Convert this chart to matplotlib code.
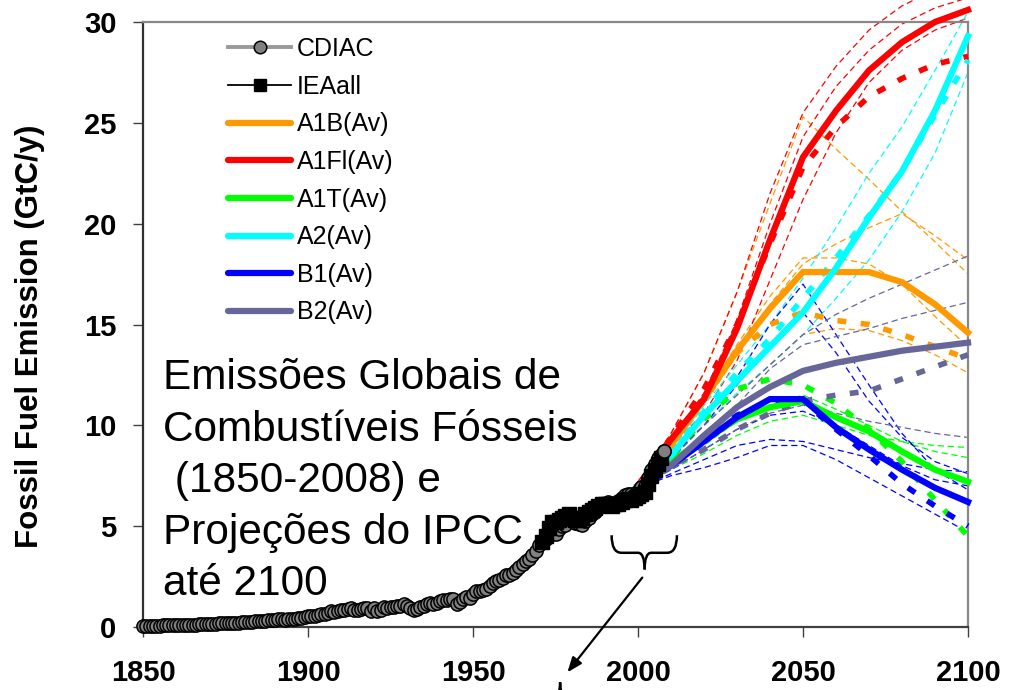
import matplotlib
matplotlib.use("Agg")
import matplotlib.pyplot as plt
from matplotlib.path import Path
from matplotlib.patches import PathPatch
from matplotlib.lines import Line2D

plt.rcParams['font.family'] = ['Liberation Sans', 'DejaVu Sans']

# ---- historical fossil fuel emissions (GtC/y) ----
cdiac_years = list(range(1850, 2009))
cdiac = [
    0.054, 0.054, 0.057, 0.059, 0.069, 0.071, 0.076, 0.077, 0.078, 0.083,
    0.091, 0.095, 0.097, 0.104, 0.112, 0.119, 0.122, 0.130, 0.135, 0.142,
    0.147, 0.156, 0.173, 0.184, 0.174, 0.188, 0.191, 0.194, 0.196, 0.210,
    0.236, 0.243, 0.256, 0.272, 0.275, 0.277, 0.281, 0.295, 0.327, 0.327,
    0.356, 0.372, 0.374, 0.370, 0.383, 0.406, 0.419, 0.440, 0.465, 0.507,
    0.534, 0.552, 0.566, 0.617, 0.624, 0.663, 0.707, 0.784, 0.750, 0.785,
    0.819, 0.836, 0.879, 0.943, 0.850, 0.838, 0.901, 0.955, 0.936, 0.806,
    0.932, 0.803, 0.845, 0.970, 0.963, 0.975, 0.983, 1.062, 1.065, 1.145,
    1.053, 0.940, 0.847, 0.893, 0.973, 1.027, 1.130, 1.209, 1.142, 1.192,
    1.299, 1.334, 1.342, 1.391, 1.383, 1.160, 1.238, 1.392, 1.469, 1.419,
    1.630, 1.767, 1.795, 1.841, 1.865, 2.042, 2.177, 2.270, 2.330, 2.454,
    2.569, 2.580, 2.686, 2.833, 2.995, 3.130, 3.288, 3.393, 3.566, 3.780,
    4.053, 4.208, 4.376, 4.614, 4.623, 4.596, 4.864, 5.016, 5.074, 5.357,
    5.301, 5.138, 5.094, 5.075, 5.258, 5.417, 5.583, 5.725, 5.936, 6.066,
    6.098, 6.183, 6.107, 6.122, 6.246, 6.391, 6.530, 6.614, 6.587, 6.574,
    6.758, 6.930, 6.993, 7.370, 7.786, 8.097, 8.356, 8.533, 8.749,
]

iea_years = list(range(1971, 2008))
iea_all = [
    4.20, 4.50, 4.90, 5.20, 5.20, 5.30, 5.40, 5.50, 5.60, 5.40,
    5.30, 5.30, 5.40, 5.60, 5.70, 5.80, 5.90, 6.00, 6.10, 6.10,
    6.10, 6.00, 6.10, 6.10, 6.20, 6.30, 6.35, 6.30, 6.40, 6.50,
    6.60, 6.70, 7.10, 7.50, 7.80, 8.10, 8.40,
]

# ---- IPCC SRES projections (GtC/y) ----
proj_years = [2000, 2010, 2020, 2030, 2040, 2050, 2060, 2070, 2080, 2090, 2100]

# scenario averages
a1b_av  = [7.0, 9.0, 11.3, 13.7, 15.8, 17.6, 17.6, 17.6, 17.1, 16.0, 14.6]
a1fi_av = [7.0, 9.3, 11.3, 14.8, 19.2, 23.3, 25.6, 27.6, 29.0, 30.0, 30.6]
a1t_av  = [7.0, 8.2, 9.3, 10.3, 10.9, 11.2, 10.4, 9.7, 8.7, 7.8, 7.2]
a2_av   = [7.0, 8.5, 10.5, 12.2, 13.9, 15.6, 17.8, 20.3, 22.6, 25.6, 29.3]
b1_av   = [7.0, 8.0, 9.2, 10.4, 11.3, 11.3, 9.9, 8.8, 7.8, 6.9, 6.2]
b2_av   = [7.0, 8.0, 9.5, 10.9, 11.9, 12.7, 13.1, 13.4, 13.7, 13.9, 14.1]

# marker scenarios
a1b_mk  = [7.0, 9.3, 11.6, 13.6, 15.0, 15.6, 15.2, 15.0, 14.5, 13.9, 13.3]
a1fi_mk = [7.0, 9.4, 11.8, 15.0, 19.0, 22.8, 24.8, 26.3, 27.2, 27.9, 28.3]
a1t_mk  = [7.0, 8.5, 10.3, 11.8, 12.3, 12.0, 11.1, 9.8, 8.2, 6.3, 4.5]
a2_mk   = [7.0, 8.5, 10.7, 12.6, 14.3, 16.3, 18.3, 20.4, 22.6, 25.4, 28.1]
b1_mk   = [7.0, 8.0, 9.3, 10.5, 11.2, 11.2, 9.8, 8.5, 7.1, 6.0, 5.0]
b2_mk   = [7.0, 8.0, 8.8, 9.8, 10.6, 11.2, 11.5, 11.7, 12.3, 12.9, 13.5]

# individual model runs
a1b_runs = [
    [7.1, 9.6, 12.6, 16.6, 21.0, 25.3, 23.7, 22.2, 20.6, 19.1, 17.5],
    [7.0, 8.8, 11.0, 13.5, 16.0, 18.0, 19.0, 19.8, 20.5, 19.4, 18.2],
    [7.0, 8.5, 10.0, 11.5, 13.0, 14.5, 14.8, 14.7, 14.2, 13.5, 12.6],
    [7.0, 9.0, 11.4, 14.0, 16.4, 18.3, 18.3, 18.0, 17.0, 15.4, 13.9],
]
a1fi_runs = [
    [7.1, 9.6, 12.6, 16.6, 21.5, 25.5, 27.8, 29.6, 30.8, 31.6, 32.2],
    [7.0, 9.0, 10.6, 13.2, 17.2, 21.2, 24.5, 27.0, 28.6, 29.6, 30.2],
    [7.0, 9.3, 11.6, 15.2, 20.0, 24.3, 26.8, 28.6, 29.9, 30.7, 31.2],
]
a1t_runs = [
    [6.9, 7.8, 8.6, 9.5, 10.2, 10.5, 10.0, 9.5, 9.2, 9.0, 8.9],
    [7.0, 8.0, 9.0, 10.2, 11.0, 11.5, 10.8, 10.0, 9.2, 8.7, 8.4],
]
a2_runs = [
    [7.0, 8.7, 11.0, 13.0, 15.0, 17.3, 19.8, 22.5, 24.8, 27.6, 30.5],
    [7.0, 8.3, 10.0, 11.6, 13.0, 14.5, 16.3, 18.2, 20.6, 23.5, 27.5],
]
b1_runs = [
    [7.0, 8.6, 10.4, 12.4, 15.0, 17.0, 14.5, 12.0, 9.6, 7.8, 6.8],
    [6.9, 7.5, 7.9, 8.4, 9.0, 9.0, 8.3, 7.4, 6.5, 5.6, 4.7],
    [6.9, 7.6, 8.3, 9.0, 9.3, 9.2, 8.8, 8.4, 8.1, 7.8, 7.7],
    [7.0, 7.8, 8.8, 9.8, 10.5, 10.7, 10.0, 9.0, 8.0, 7.3, 7.0],
    [7.0, 8.4, 10.0, 12.0, 14.0, 15.6, 13.6, 11.2, 9.4, 8.2, 7.6],
]
b2_runs = [
    [7.0, 8.3, 10.0, 11.5, 13.0, 14.5, 15.5, 16.3, 17.0, 17.7, 18.4],
    [7.0, 8.0, 9.3, 11.0, 12.8, 14.0, 14.4, 14.8, 15.3, 15.7, 16.1],
    [6.9, 7.8, 8.8, 9.8, 10.6, 11.0, 10.6, 10.2, 9.9, 9.6, 9.4],
]

scenarios = [
    ("A1B(Av)",  "#FF9900", a1b_av,  a1b_mk,  a1b_runs),
    ("A1FI(Av)", "#FF0000", a1fi_av, a1fi_mk, a1fi_runs),
    ("A1T(Av)",  "#00FF00", a1t_av,  a1t_mk,  a1t_runs),
    ("A2(Av)",   "#00FFFF", a2_av,   a2_mk,   a2_runs),
    ("B1(Av)",   "#0000FF", b1_av,   b1_mk,   b1_runs),
    ("B2(Av)",   "#666699", b2_av,   b2_mk,   b2_runs),
]
legend_labels = ["CDIAC", "IEAall", "A1B(Av)", "A1Fl(Av)", "A1T(Av)",
                 "A2(Av)", "B1(Av)", "B2(Av)"]

fig = plt.figure(figsize=(10.09, 6.90), dpi=100)
ax = fig.add_axes([143 / 1009, 1 - 627 / 690, 825 / 1009, 605 / 690])

# thin dashed model runs
for _, color, _, _, runs in scenarios:
    for run in runs:
        ax.plot(proj_years, run, color=color, lw=0.9, dashes=(5, 3),
                clip_on=False, zorder=2)

# thick dashed marker scenarios
for _, color, _, mk, _ in scenarios:
    ax.plot(proj_years, mk, color=color, lw=4.0, dashes=(1.6, 2.6),
            clip_on=False, zorder=3, solid_capstyle='butt')

# scenario averages
av_handles = []
for label, color, av, _, _ in scenarios:
    h, = ax.plot(proj_years, av, color=color, lw=4.5, clip_on=False, zorder=4,
                 solid_joinstyle='miter')
    av_handles.append(h)

# historical records
ax.plot(cdiac_years, cdiac, color='#808080', lw=2,
        marker='o', ms=9.5, mfc='#808080', mec='black', mew=1.1,
        zorder=5, clip_on=False)
ax.plot(iea_years, iea_all, color='black', lw=1.5,
        marker='s', ms=10.5, mfc='black', mec='black', zorder=6)
# latest CDIAC value shown on top of the IEA band
ax.plot(cdiac_years[-1:], cdiac[-1:], ls='none', marker='o', ms=9.5,
        mfc='#808080', mec='black', mew=1.1, zorder=7)

ax.set_xlim(1850, 2100)
ax.set_ylim(0, 30)
ax.set_xticks([1850, 1900, 1950, 2000, 2050, 2100])
ax.set_yticks([0, 5, 10, 15, 20, 25, 30])
ax.tick_params(axis='both', direction='out', length=7, width=1.0,
               color='#404040', labelsize=21)
for lab in ax.get_xticklabels() + ax.get_yticklabels():
    lab.set_fontweight('bold')
ax.tick_params(axis='x', pad=16)
ax.tick_params(axis='y', pad=12)

ax.spines['left'].set_color('#303030')
ax.spines['bottom'].set_color('#404040')
ax.spines['top'].set_color('#888888')
ax.spines['right'].set_color('#888888')
for s in ax.spines.values():
    s.set_linewidth(1.6)

ax.set_ylabel("Fossil Fuel Emission (GtC/y)", fontsize=22.5, fontweight='bold')
ax.yaxis.set_label_coords(-0.119, 0.481)

# legend
leg_handles = [
    Line2D([], [], color='#999999', lw=2.8, marker='o', ms=9, mfc='#808080',
           mec='black', mew=1.1),
    Line2D([], [], color='black', lw=1.3, marker='s', ms=8.5, mfc='black',
           mec='black'),
] + [Line2D([], [], color=h.get_color(), lw=4.5, solid_capstyle='round')
     for h in av_handles]
ax.legend(leg_handles, legend_labels, loc='upper left',
          bbox_to_anchor=(0.1036, 0.975), frameon=False, fontsize=18,
          handlelength=2.5, handletextpad=0.25, labelspacing=0.545,
          borderpad=0.0, borderaxespad=0.0)

# descriptive text block
ax.text(0.024, 0.241,
        "Emissões Globais de\nCombustíveis Fósseis\n (1850-2008) e\n"
        "Projeções do IPCC\naté 2100",
        transform=ax.transAxes, fontsize=30.5, ha='left', va='center',
        linespacing=1.37, zorder=1)

# brace marking the recent years, with an arrow below it
bx0, bx1, bxc = 1992.0, 2011.8, 2002.0
for xe, sgn in ((bx0, 1), (bx1, -1)):
    half = Path([(xe, 4.55), (xe, 3.68), (xe + sgn * 3.0, 3.68),
                 (bxc - sgn * 2.0, 3.68), (bxc, 3.68), (bxc, 2.85)],
                [Path.MOVETO, Path.CURVE3, Path.CURVE3, Path.LINETO,
                 Path.CURVE3, Path.CURVE3])
    ax.add_patch(PathPatch(half, fill=False, lw=1.8, color='black',
                           clip_on=False, zorder=8))

ax.annotate("", xy=(1978.6, -2.25), xytext=(2001.3, 2.45),
            xycoords='data', textcoords='data', annotation_clip=False,
            arrowprops=dict(arrowstyle='-|>,head_length=0.9,head_width=0.35',
                            color='black', lw=1.6, shrinkA=0, shrinkB=0))

# tip of a second brace at the bottom edge
tip = Path([(1975.2, -3.3), (1976.4, -3.3), (1976.4, -2.75),
            (1976.4, -3.3), (1977.6, -3.3)],
           [Path.MOVETO, Path.CURVE3, Path.CURVE3, Path.CURVE3, Path.CURVE3])
ax.add_patch(PathPatch(tip, fill=False, lw=1.8, color='black',
                       clip_on=False, zorder=8))

fig.savefig("out.png", dpi=100)
